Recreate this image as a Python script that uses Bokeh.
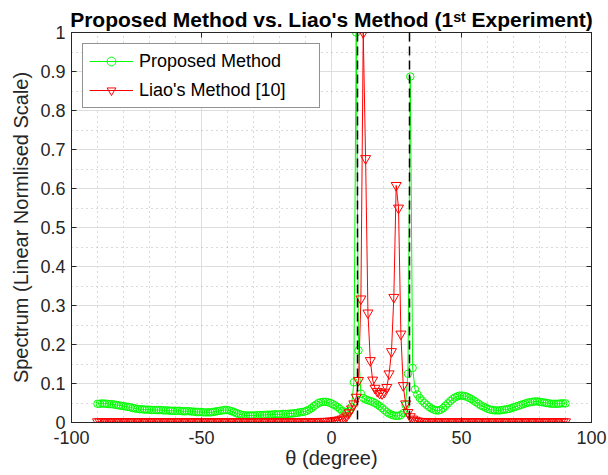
import numpy as np
from bokeh.plotting import figure
from bokeh.models import Range1d, FixedTicker, LinearAxis, Span, Legend, LegendItem
from bokeh.embed import file_html
from bokeh.resources import INLINE

# ---------------- data ----------------
theta = np.linspace(-90, 90, 200)  # scan grid (degrees)

proposed = [
    0.048, 0.048, 0.049, 0.048, 0.048, 0.047, 0.047, 0.046, 0.045, 0.044,
    0.043, 0.042, 0.041, 0.040, 0.039, 0.037, 0.036, 0.035, 0.034, 0.034,
    0.033, 0.033, 0.033, 0.032, 0.032, 0.032, 0.032, 0.032, 0.031, 0.031,
    0.031, 0.030, 0.030, 0.030, 0.030, 0.030, 0.029, 0.029, 0.029, 0.029,
    0.028, 0.028, 0.027, 0.027, 0.027, 0.026, 0.026, 0.026, 0.026, 0.027,
    0.028, 0.029, 0.030, 0.031, 0.032, 0.032, 0.031, 0.029, 0.027, 0.024,
    0.022, 0.020, 0.019, 0.018, 0.018, 0.018, 0.018, 0.018, 0.019, 0.019,
    0.019, 0.019, 0.020, 0.020, 0.020, 0.021, 0.021, 0.021, 0.021, 0.022,
    0.022, 0.022, 0.023, 0.023, 0.024, 0.025, 0.026, 0.027, 0.028, 0.030,
    0.033, 0.037, 0.042, 0.046, 0.050, 0.052, 0.053, 0.053, 0.052, 0.050,
    0.047, 0.044, 0.040, 0.035, 0.030, 0.027, 0.026, 0.029, 0.040, 0.103,
    1.000, 0.185, 0.074, 0.063, 0.059, 0.057, 0.055, 0.053, 0.050, 0.046,
    0.042, 0.037, 0.032, 0.027, 0.023, 0.020, 0.018, 0.017, 0.017, 0.019,
    0.024, 0.045, 0.125, 0.887, 0.140, 0.085, 0.072, 0.063, 0.056, 0.050,
    0.045, 0.040, 0.036, 0.033, 0.031, 0.031, 0.033, 0.037, 0.043, 0.049,
    0.055, 0.060, 0.064, 0.067, 0.069, 0.069, 0.068, 0.066, 0.063, 0.060,
    0.056, 0.052, 0.048, 0.044, 0.041, 0.038, 0.035, 0.033, 0.032, 0.031,
    0.031, 0.031, 0.032, 0.033, 0.034, 0.035, 0.037, 0.039, 0.041, 0.043,
    0.045, 0.047, 0.049, 0.051, 0.052, 0.053, 0.054, 0.054, 0.053, 0.052,
    0.051, 0.050, 0.049, 0.048, 0.048, 0.048, 0.048, 0.049, 0.049, 0.049,
]

liao = [
    0.002, 0.002, 0.002, 0.002, 0.002, 0.002, 0.002, 0.002, 0.002, 0.002,
    0.002, 0.002, 0.002, 0.002, 0.002, 0.002, 0.002, 0.002, 0.002, 0.002,
    0.002, 0.002, 0.002, 0.002, 0.002, 0.002, 0.002, 0.002, 0.002, 0.002,
    0.002, 0.002, 0.002, 0.002, 0.002, 0.002, 0.002, 0.002, 0.002, 0.002,
    0.002, 0.002, 0.002, 0.002, 0.002, 0.002, 0.002, 0.002, 0.002, 0.002,
    0.002, 0.002, 0.002, 0.002, 0.002, 0.002, 0.002, 0.002, 0.002, 0.002,
    0.002, 0.002, 0.002, 0.002, 0.002, 0.002, 0.002, 0.002, 0.002, 0.002,
    0.002, 0.002, 0.002, 0.002, 0.002, 0.002, 0.002, 0.002, 0.002, 0.002,
    0.002, 0.002, 0.002, 0.002, 0.002, 0.002, 0.002, 0.002, 0.002, 0.002,
    0.002, 0.002, 0.002, 0.002, 0.002, 0.003, 0.003, 0.003, 0.003, 0.004,
    0.004, 0.005, 0.006, 0.007, 0.009, 0.012, 0.017, 0.025, 0.035, 0.048,
    0.065, 0.108, 0.317, 1.000, 0.677, 0.281, 0.159, 0.109, 0.088, 0.080,
    0.075, 0.074, 0.078, 0.090, 0.125, 0.182, 0.321, 0.608, 0.550, 0.227,
    0.095, 0.048, 0.026, 0.015, 0.009, 0.006, 0.004, 0.003, 0.003, 0.002,
    0.002, 0.002, 0.002, 0.002, 0.002, 0.002, 0.002, 0.002, 0.002, 0.002,
    0.002, 0.002, 0.002, 0.002, 0.002, 0.002, 0.002, 0.002, 0.002, 0.002,
    0.002, 0.002, 0.002, 0.002, 0.002, 0.002, 0.002, 0.002, 0.002, 0.002,
    0.002, 0.002, 0.002, 0.002, 0.002, 0.002, 0.002, 0.002, 0.002, 0.002,
    0.002, 0.002, 0.002, 0.002, 0.002, 0.002, 0.002, 0.002, 0.002, 0.002,
    0.002, 0.002, 0.002, 0.002, 0.002, 0.002, 0.002, 0.002, 0.002, 0.002,
]

true_doa = [10, 30]  # true source directions (dashed markers)

x_major = [-100, -50, 0, 50, 100]
x_minor = [-90, -80, -70, -60, -40, -30, -20, -10, 10, 20, 30, 40, 60, 70, 80, 90]
x_tick_labels = ["-100", "-50", "0", "50", "100"]
y_major = [0.0, 0.1, 0.2, 0.3, 0.4, 0.5, 0.6, 0.7, 0.8, 0.9, 1.0]
y_minor = [0.05, 0.15, 0.25, 0.35, 0.45, 0.55, 0.65, 0.75, 0.85, 0.95]
y_tick_labels = ["0", "0.1", "0.2", "0.3", "0.4", "0.5", "0.6", "0.7", "0.8", "0.9", "1"]

series_names = ["Proposed Method", "Liao's Method [10]"]
title_text = "Proposed Method vs. Liao's Method (1\u02e2\u1d57 Experiment)"
x_label = "\u03b8 (degree)"
y_label = "Spectrum (Linear Normlised Scale)"

# ---------------- style ----------------
FONT = "Liberation Sans"
AX = "#262626"
GREEN = "#00ff00"
RED = "#ff0000"
W, H = 608, 475

p = figure(width=W, height=H, output_backend="svg", toolbar_location=None,
           x_range=Range1d(-100, 100), y_range=Range1d(0, 1),
           min_border_left=71, min_border_right=17, min_border_top=32, min_border_bottom=53,
           background_fill_color="white", border_fill_color="white")
p.outline_line_color = AX
p.outline_line_width = 1

p.title.text = title_text
p.title.align = "center"
p.title.text_font = FONT
p.title.text_font_size = "21px"
p.title.text_font_style = "bold"
p.title.text_color = "black"
p.title.standoff = 4

xt = FixedTicker(ticks=x_major, minor_ticks=x_minor)
yt = FixedTicker(ticks=y_major, minor_ticks=y_minor)
p.xaxis.ticker = xt
p.yaxis.ticker = yt
p.xaxis.major_label_overrides = dict(zip(x_major, x_tick_labels))
p.yaxis.major_label_overrides = dict(zip(y_major, y_tick_labels))
p.xaxis.axis_label = x_label
p.yaxis.axis_label = y_label

for ax in (p.xaxis[0], p.yaxis[0]):
    ax.axis_line_color = AX
    ax.major_tick_line_color = AX
    ax.major_tick_in = 5
    ax.major_tick_out = 0
    ax.minor_tick_in = 0
    ax.minor_tick_out = 0
    ax.major_label_text_font = FONT
    ax.major_label_text_font_size = "18px"
    ax.major_label_text_color = AX
    ax.axis_label_text_font = FONT
    ax.axis_label_text_font_size = "20px"
    ax.axis_label_text_font_style = "normal"
    ax.axis_label_text_color = AX
p.xaxis.major_label_standoff = 8
p.xaxis.axis_label_standoff = 0
p.yaxis.major_label_standoff = 6
p.yaxis.axis_label_standoff = 5

# box ticks on top / right
for loc, tk in (("above", x_major), ("right", y_major)):
    a = LinearAxis(ticker=FixedTicker(ticks=tk))
    a.axis_line_color = AX
    a.major_tick_line_color = AX
    a.major_tick_in = 5
    a.major_tick_out = 0
    a.minor_tick_in = 0
    a.minor_tick_out = 0
    a.major_label_text_font_size = "0px"
    a.major_label_overrides = {t: "" for t in tk}
    a.major_label_standoff = 0
    p.add_layout(a, loc)

for g in (p.xgrid[0], p.ygrid[0]):
    g.grid_line_color = "#dedede"
    g.grid_line_width = 1
    g.minor_grid_line_color = "#b5b5b5"
    g.minor_grid_line_dash = "1 4"
    g.minor_grid_line_width = 1

# ---------------- glyphs ----------------
g_line = p.line(theta, proposed, line_color=GREEN, line_width=1)
g_pts = p.scatter(theta, proposed, marker="circle", size=7.5, line_color=GREEN,
                  fill_color=None, line_width=1)
r_line = p.line(theta, liao, line_color=RED, line_width=1)
r_pts = p.scatter(theta, liao, marker="inverted_triangle", size=10, line_color=RED,
                  fill_color=None, line_width=1)

for a in true_doa:
    p.add_layout(Span(location=a, dimension="height", line_color="black",
                      line_dash="9 5", line_width=1.5))

legend = Legend(items=[LegendItem(label=series_names[0], renderers=[g_line, g_pts]),
                       LegendItem(label=series_names[1], renderers=[r_line, r_pts])],
                location="top_left", margin=11, padding=6, spacing=7,
                glyph_width=44, glyph_height=22, label_height=22, label_width=174,
                label_standoff=6,
                label_text_font=FONT, label_text_font_size="18px", label_text_color="black",
                border_line_color=AX, border_line_width=1,
                background_fill_color="white", background_fill_alpha=1)
p.add_layout(legend)

open("out.html", "w").write(file_html(p, INLINE))
